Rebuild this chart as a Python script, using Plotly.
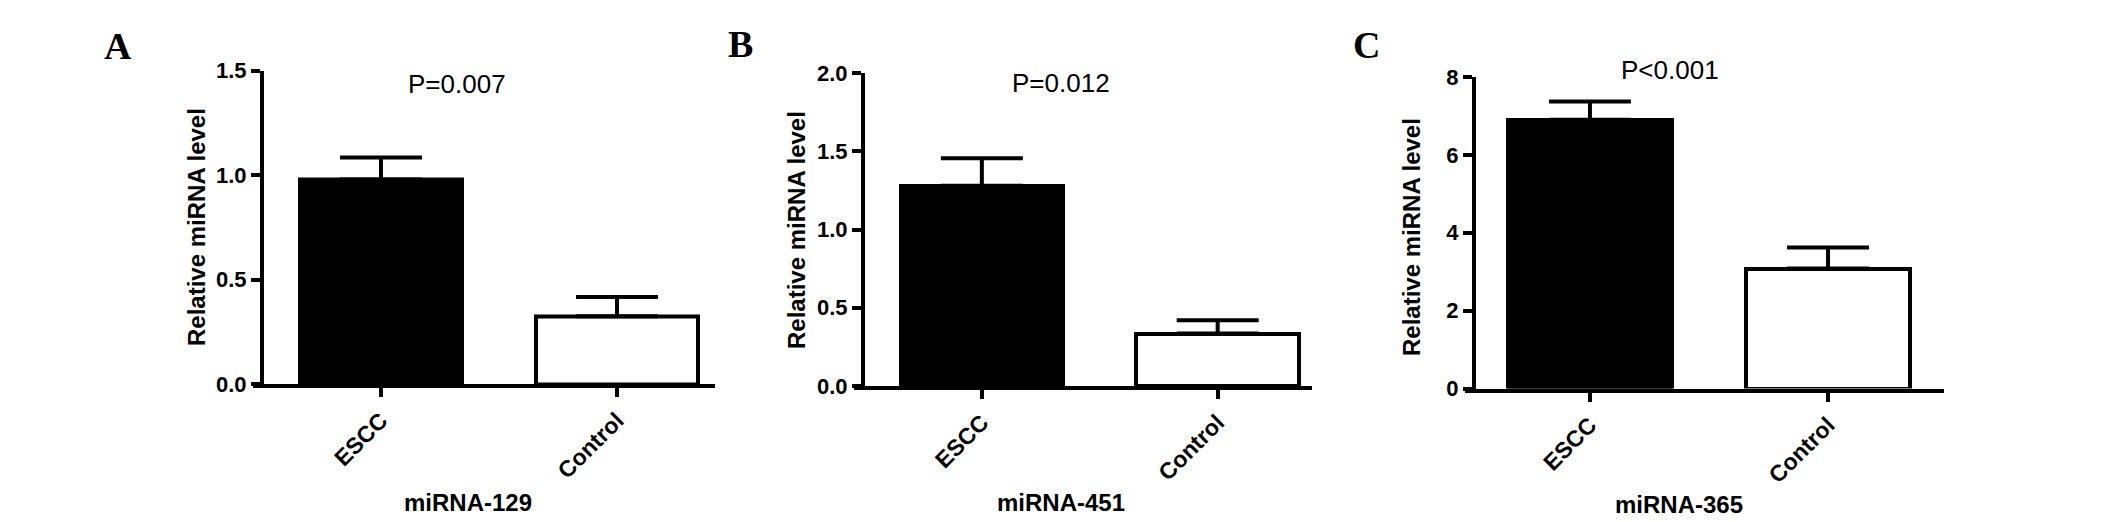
import plotly.graph_objects as go

# ---- data ----
categories = ["ESCC", "Control"]
panel_letters = ["A", "B", "C"]
gene_names = ["miRNA-129", "miRNA-451", "miRNA-365"]
p_labels = ["P=0.007", "P=0.012", "P<0.001"]
means_129 = [0.978, 0.324]
sem_129 = [0.106, 0.092]
means_451 = [1.28, 0.335]
sem_451 = [0.175, 0.085]
means_365 = [6.90, 3.08]
sem_365 = [0.47, 0.54]
y_max = [1.5, 2.0, 8]
y_dtick = [0.5, 0.5, 2]
y_format = [".1f", ".1f", "d"]
fill_colors = ["black", "white"]

W, H = 2126, 522
TICK = 9  # tick length px; x-axis line starts this far left of the y-axis

# layout geometry (pixels)
x_dom_px = [(262, 715), (863, 1312), (1474, 1944)]
y_dom_px = [(384, 70.5), (386, 73), (388.5, 77)]
x_ranges = [(-0.504, 1.415), (-0.504, 1.40), (-0.487, 1.487)]
letter_pos = [(118, 46), (740, 44), (1366, 45)]
ptext_pos = [(457, 84), (1061, 83), (1670, 70)]
ytitle_pos = [(196, 227), (797, 230), (1411, 237)]
xtitle_pos = [(468, 502), (1061, 502), (1679, 504)]

means = [means_129, means_451, means_365]
sems = [sem_129, sem_451, sem_365]

fig = go.Figure()
annotations = []
for i in range(3):
    xa = "x" if i == 0 else f"x{i+1}"
    ya = "y" if i == 0 else f"y{i+1}"
    fig.add_trace(go.Bar(
        x=[0, 1], y=means[i], width=[0.69, 0.69],
        marker=dict(color=fill_colors, line=dict(color="black", width=4)),
        error_y=dict(type="data", symmetric=False, array=sems[i],
                     arrayminus=[0, 0], color="black", thickness=4, width=41),
        xaxis=xa, yaxis=ya, showlegend=False,
    ))
    x0, x1 = x_dom_px[i]
    r0, r1 = x_ranges[i]
    ppu = (x1 - x0) / (r1 - r0)
    xd = [(x0 - TICK) / W, x1 / W]
    xr = [r0 - TICK / ppu, r1]
    yd = [1 - y_dom_px[i][0] / H, 1 - y_dom_px[i][1] / H]
    line_common = dict(showline=True, linecolor="black", linewidth=4,
                       ticks="outside", tickcolor="black", tickwidth=4, ticklen=TICK,
                       showgrid=False, zeroline=False, automargin=False)
    fig.layout[f"xaxis{'' if i == 0 else i+1}"] = dict(
        domain=xd, range=xr, anchor=ya,
        tickmode="array", tickvals=[0, 1], ticktext=categories, tickangle=-45,
        ticklabelstandoff=1,
        tickfont=dict(family="Liberation Sans", size=23, color="black", weight="bold"),
        **line_common)
    fig.layout[f"yaxis{'' if i == 0 else i+1}"] = dict(
        domain=yd, range=[0, y_max[i]], anchor="free", position=x0 / W,
        dtick=y_dtick[i], tick0=0, tickformat=y_format[i],
        tickfont=dict(family="Liberation Sans", size=22, color="black", weight="bold"),
        **line_common)

    annotations.append(dict(text=panel_letters[i], x=letter_pos[i][0] / W, y=1 - letter_pos[i][1] / H,
                            xref="paper", yref="paper", showarrow=False, xanchor="center", yanchor="middle",
                            font=dict(family="Liberation Serif", size=38, color="black", weight="bold")))
    annotations.append(dict(text=p_labels[i], x=ptext_pos[i][0] / W, y=1 - ptext_pos[i][1] / H,
                            xref="paper", yref="paper", showarrow=False, xanchor="center", yanchor="middle",
                            font=dict(family="Liberation Sans", size=26, color="black")))
    annotations.append(dict(text="Relative miRNA level", x=ytitle_pos[i][0] / W, y=1 - ytitle_pos[i][1] / H,
                            xref="paper", yref="paper", showarrow=False, xanchor="center", yanchor="middle",
                            textangle=-90,
                            font=dict(family="Liberation Sans", size=24, color="black", weight="bold")))
    annotations.append(dict(text=gene_names[i], x=xtitle_pos[i][0] / W, y=1 - xtitle_pos[i][1] / H,
                            xref="paper", yref="paper", showarrow=False, xanchor="center", yanchor="middle",
                            font=dict(family="Liberation Sans", size=24, color="black", weight="bold")))

fig.update_layout(width=W, height=H, margin=dict(l=0, r=0, t=0, b=0, autoexpand=False),
                  paper_bgcolor="white", plot_bgcolor="white",
                  annotations=annotations, bargap=0)
fig.write_html("out.html", config={"displayModeBar": False},
               post_script="document.body.style.margin='0';document.body.style.overflow='hidden';")
